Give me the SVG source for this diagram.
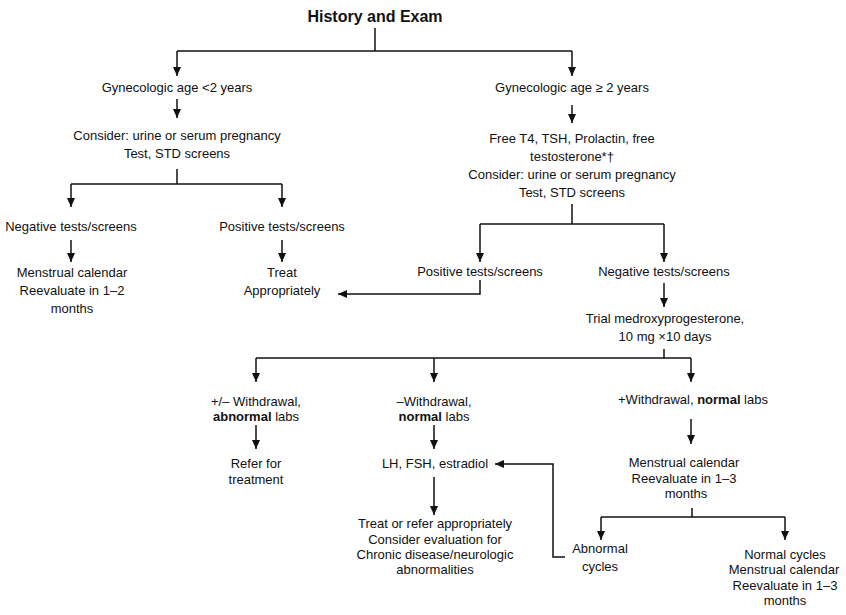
<svg xmlns="http://www.w3.org/2000/svg" width="846" height="615" viewBox="0 0 846 615">
<defs>
<marker id="ah" markerUnits="userSpaceOnUse" markerWidth="9" markerHeight="8" refX="9" refY="4" orient="auto">
<path d="M0,0 L9,4 L0,8 z" fill="#111"/>
</marker>
<style>
text{font-family:"Liberation Sans",Arial,sans-serif;font-size:13px;fill:#111;text-anchor:middle}
.t{font-size:16px;font-weight:bold}
.b{font-weight:bold}
#connectors line,#connectors polyline{stroke:#111;stroke-width:1.5;fill:none}
.a{marker-end:url(#ah)}
</style>
</defs>
<rect width="846" height="615" fill="#fff"/>
<g id="connectors">
<line x1="375" y1="28" x2="375" y2="51"/>
<line x1="177" y1="51" x2="572" y2="51"/>
<line class="a" x1="177" y1="51" x2="177" y2="76"/>
<line class="a" x1="572" y1="51" x2="572" y2="76"/>
<line class="a" x1="177" y1="99" x2="177" y2="118"/>
<line x1="177" y1="169" x2="177" y2="184"/>
<line x1="71" y1="184" x2="282" y2="184"/>
<line class="a" x1="71" y1="184" x2="71" y2="207"/>
<line class="a" x1="282" y1="184" x2="282" y2="207"/>
<line class="a" x1="71" y1="240" x2="71" y2="262"/>
<line class="a" x1="282" y1="240" x2="282" y2="262"/>
<line class="a" x1="572" y1="105" x2="572" y2="123"/>
<line x1="572" y1="204" x2="572" y2="224"/>
<line x1="480" y1="224" x2="664" y2="224"/>
<line class="a" x1="480" y1="224" x2="480" y2="262"/>
<line class="a" x1="664" y1="224" x2="664" y2="262"/>
<polyline class="a" points="480,280 480,294 338,294"/>
<line class="a" x1="664" y1="283" x2="664" y2="307"/>
<line x1="664" y1="349" x2="664" y2="358"/>
<line x1="256" y1="358" x2="691" y2="358"/>
<line class="a" x1="256" y1="358" x2="256" y2="382"/>
<line class="a" x1="434" y1="358" x2="434" y2="382"/>
<line class="a" x1="691" y1="358" x2="691" y2="382"/>
<line class="a" x1="256" y1="425" x2="256" y2="449"/>
<line class="a" x1="434" y1="425" x2="434" y2="449"/>
<line class="a" x1="691" y1="419" x2="691" y2="444"/>
<line class="a" x1="434" y1="477" x2="434" y2="515"/>
<polyline class="a" points="565,557 553,557 553,464 495,464"/>
<line x1="692" y1="508" x2="692" y2="517"/>
<line x1="601" y1="517" x2="785" y2="517"/>
<line class="a" x1="601" y1="517" x2="601" y2="540"/>
<line class="a" x1="785" y1="517" x2="785" y2="540"/>
</g>
<g id="history"><text class="t" x="375" y="22">History and Exam</text></g>
<g id="age-lt2"><text x="177" y="92">Gynecologic age &lt;2 years</text></g>
<g id="consider-left"><text x="177" y="140">Consider: urine or serum pregnancy</text><text x="177" y="158">Test, STD screens</text></g>
<g id="neg-left"><text x="71" y="231">Negative tests/screens</text></g>
<g id="pos-left"><text x="282" y="231">Positive tests/screens</text></g>
<g id="calendar-left"><text x="72" y="277">Menstrual calendar</text><text x="72" y="295">Reevaluate in 1–2</text><text x="72" y="313">months</text></g>
<g id="treat"><text x="282" y="277">Treat</text><text x="282" y="295">Appropriately</text></g>
<g id="age-ge2"><text x="572" y="92">Gynecologic age ≥ 2 years</text></g>
<g id="labs"><text x="572" y="143">Free T4, TSH, Prolactin, free</text><text x="572" y="161">testosterone*†</text><text x="572" y="179">Consider: urine or serum pregnancy</text><text x="572" y="197">Test, STD screens</text></g>
<g id="pos-right"><text x="480" y="276">Positive tests/screens</text></g>
<g id="neg-right"><text x="664" y="276">Negative tests/screens</text></g>
<g id="trial"><text x="665" y="323">Trial medroxyprogesterone,</text><text x="665" y="341">10 mg ×10 days</text></g>
<g id="abn-labs"><text x="256" y="406">+/– Withdrawal,</text><text x="256" y="421"><tspan class="b">abnormal</tspan> labs</text></g>
<g id="neg-withdrawal"><text x="434" y="406">–Withdrawal,</text><text x="434" y="421"><tspan class="b">normal</tspan> labs</text></g>
<g id="pos-withdrawal"><text x="693" y="404">+Withdrawal, <tspan class="b">normal</tspan> labs</text></g>
<g id="refer"><text x="256" y="468">Refer for</text><text x="256" y="484">treatment</text></g>
<g id="lh-fsh"><text x="435" y="468">LH, FSH, estradiol</text></g>
<g id="treat-refer"><text x="435" y="528">Treat or refer appropriately</text><text x="435" y="544">Consider evaluation for</text><text x="435" y="559">Chronic disease/neurologic</text><text x="435" y="574">abnormalities</text></g>
<g id="calendar-right"><text x="684" y="467">Menstrual calendar</text><text x="684" y="483">Reevaluate in 1–3</text><text x="686" y="498">months</text></g>
<g id="abn-cycles"><text x="600" y="553">Abnormal</text><text x="600" y="571">cycles</text></g>
<g id="normal-cycles"><text x="785" y="559">Normal cycles</text><text x="784" y="574">Menstrual calendar</text><text x="785" y="590">Reevaluate in 1–3</text><text x="785" y="605">months</text></g>
</svg>
